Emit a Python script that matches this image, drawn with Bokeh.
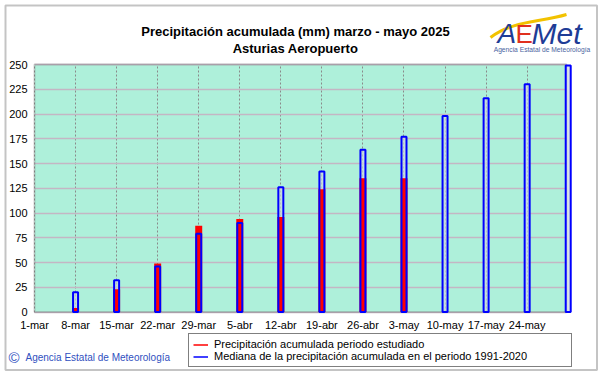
from bokeh.plotting import figure
from bokeh.models import (ColumnDataSource, FixedTicker, Range1d, Legend, LegendItem,
                          Label, BoxAnnotation, Grid)
from bokeh.embed import file_html
from bokeh.resources import INLINE

# ---------------- data ----------------
tick_days = [0, 7, 14, 21, 28, 35, 42, 49, 56, 63, 70, 77, 84]
tick_labels = ["1-mar", "8-mar", "15-mar", "22-mar", "29-mar", "5-abr", "12-abr",
               "19-abr", "26-abr", "3-may", "10-may", "17-may", "24-may"]
median_days = [7, 14, 21, 28, 35, 42, 49, 56, 63, 70, 77, 84, 91]
median_mm = [20, 32, 46, 79, 90, 126, 142, 164, 177, 198, 216, 230, 249]
observed_days = [7, 14, 21, 28, 35, 42, 49, 56, 63]
observed_mm = [4, 23, 49, 87, 94, 96, 124, 135, 135]
y_ticks = [0, 25, 50, 75, 100, 125, 150, 175, 200, 225, 250]

FONT = "Liberation Sans"
W, H = 601, 374

# layout of the plot area in page pixels
X0_PX, PX_PER_DAY = 34.0, 5.865      # 1-mar position, pixels per day
Y0_PX, PX_PER_MM = 311.5, 0.99       # 0 mm position, pixels per mm

def dx(px):
    return (px - X0_PX) / PX_PER_DAY

def dy(py):
    return (Y0_PX - py) / PX_PER_MM

AREA_RIGHT = dx(566)   # right edge of the green plotting area
Y_TOP = 250

p = figure(width=W, height=H, output_backend="svg", toolbar_location=None,
           x_range=Range1d(dx(0), dx(W)), y_range=Range1d(dy(H), dy(0)), title=None,
           min_border=0, min_border_left=0, min_border_right=0,
           min_border_top=0, min_border_bottom=0,
           background_fill_color="white", border_fill_color="white")
p.outline_line_color = None

# plotting area background + border
p.add_layout(BoxAnnotation(left=0, right=AREA_RIGHT, bottom=0, top=Y_TOP,
                           fill_color="#aef0da", fill_alpha=1, line_color=None,
                           level="image"))
p.add_layout(BoxAnnotation(left=0, right=AREA_RIGHT, bottom=0, top=Y_TOP,
                           fill_alpha=0, line_color="#6a6a6a", line_width=2,
                           level="underlay"))
# outer frame of the picture
p.add_layout(BoxAnnotation(left=dx(5), right=dx(596.5), bottom=dy(369.5), top=dy(5),
                           fill_alpha=0, line_color="#3a3a3a", line_width=2,
                           level="overlay"))

# axes (fixed inside the full-canvas frame)
p.xaxis.ticker = FixedTicker(ticks=tick_days)
p.xaxis.major_label_overrides = dict(zip(tick_days, tick_labels))
p.yaxis.ticker = FixedTicker(ticks=y_ticks)
p.xaxis.fixed_location = 0
p.yaxis.fixed_location = 0
p.xaxis.bounds = (0, AREA_RIGHT)
p.yaxis.bounds = (0, Y_TOP)
for ax in (p.xaxis, p.yaxis):
    ax.axis_line_color = None
    ax.major_tick_line_color = None
    ax.minor_tick_line_color = None
    ax.major_tick_out = 0
    ax.major_tick_in = 0
    ax.major_label_text_font = FONT
    ax.major_label_text_font_size = "11px"
    ax.major_label_text_color = "#000000"
p.xaxis.major_label_standoff = 7
p.yaxis.major_label_standoff = 7

# grids
VGRID = dict(color="#8a8a8a", dash="2 2", width=1)
HGRID = dict(color="#c4b6c4", width=1.5)
if "cross_bounds" in Grid.properties():
    p.xgrid.cross_bounds = (0, Y_TOP)
    p.ygrid.cross_bounds = (0, AREA_RIGHT)
    p.xgrid.grid_line_color = VGRID["color"]
    p.xgrid.grid_line_dash = VGRID["dash"]
    p.xgrid.grid_line_width = VGRID["width"]
    p.ygrid.grid_line_color = HGRID["color"]
    p.ygrid.grid_line_width = HGRID["width"]
else:
    p.xgrid.visible = False
    p.ygrid.visible = False
    p.segment(x0=tick_days, y0=[0] * len(tick_days), x1=tick_days, y1=[Y_TOP] * len(tick_days),
              line_color=VGRID["color"], line_dash=VGRID["dash"], line_width=VGRID["width"])
    p.segment(x0=[0] * len(y_ticks), y0=y_ticks, x1=[AREA_RIGHT] * len(y_ticks), y1=y_ticks,
              line_color=HGRID["color"], line_width=HGRID["width"])

# bars
obs_src = ColumnDataSource(dict(day=observed_days, mm=observed_mm))
med_src = ColumnDataSource(dict(day=median_days, mm=median_mm))
BLUE_W = 5 / PX_PER_DAY
RED_W = 7 / PX_PER_DAY
p.vbar(x="day", top="mm", bottom=0, width=BLUE_W, source=med_src,
       fill_color="#cdd8dc", fill_alpha=0.7, line_color=None)
p.vbar(x="day", top="mm", bottom=0, width=RED_W, source=obs_src,
       fill_color="#ff0000", line_color=None)
p.vbar(x="day", top="mm", bottom=0, width=BLUE_W, source=med_src,
       fill_color=None, line_color="#0000ff", line_width=2)

# legend (line glyphs; a single NaN point so the legend swatch is drawn, nothing on the chart)
nan = float("nan")
r_red = p.line(x=[nan], y=[nan], line_color="#ff0000", line_width=1.5)
r_blue = p.line(x=[nan], y=[nan], line_color="#0000ff", line_width=1.5)
legend = Legend(items=[
    LegendItem(label="Precipitación acumulada periodo estudiado", renderers=[r_red]),
    LegendItem(label="Mediana de la precipitación acumulada en el periodo 1991-2020", renderers=[r_blue]),
], location=(188, 7), orientation="vertical",
    border_line_color="black", border_line_width=1,
    background_fill_color="white", background_fill_alpha=1,
    padding=4, spacing=0, margin=0,
    glyph_width=15, glyph_height=11, label_height=11, label_standoff=6, label_width=353,
    label_text_font=FONT, label_text_font_size="11px", label_text_color="black",
    label_text_line_height=1.0)
p.add_layout(legend)

def label(text, px, py, size, color="black", style="normal", align="left",
          baseline="alphabetic", font=FONT):
    p.add_layout(Label(x=dx(px), y=dy(py), text=text, text_font=font,
                       text_font_size=size, text_color=color, text_font_style=style,
                       text_align=align, text_baseline=baseline))

# titles
label("Precipitación acumulada (mm) marzo - mayo 2025", 295, 30.7, "13px", style="bold", align="center")
label("Asturias Aeropuerto", 295, 47.7, "13px", style="bold", align="center")

# logo
p.bezier(x0=[dx(490)], y0=[dy(37)], x1=[dx(566)], y1=[dy(14)],
         cx0=[dx(512)], cy0=[dy(20)], cx1=[dx(540)], cy1=[dy(22)],
         line_color="#f2c200", line_width=3)
label("A", 497, 33, "28px", color="#1e3c96", style="italic")
label("E", 515, 33, "26px", color="#e0301e")
label("Met", 531, 33, "30px", color="#1e3c96", style="italic")
label("Agencia Estatal de Meteorología", 541.5, 48.5, "6.7px", color="#4a64a0",
      align="center", baseline="middle")

# copyright
label("©", 8, 357, "15px", color="#3050c0", baseline="middle")
label("Agencia Estatal de Meteorología", 25, 357, "10px", color="#3050c0", baseline="middle")

open("out.html", "w").write(file_html(p, INLINE))
